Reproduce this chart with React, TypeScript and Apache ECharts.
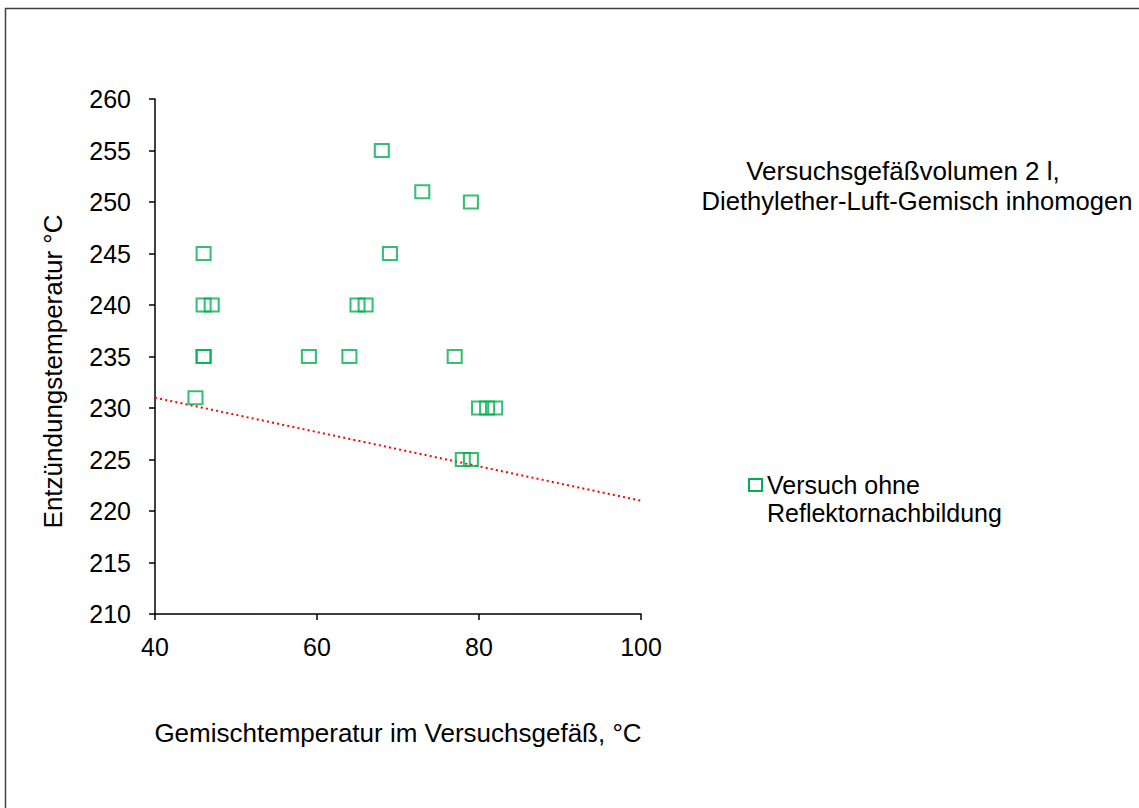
import React, { useEffect, useRef } from "react";
import * as echarts from "echarts";

const seriesName = "Versuch ohne\nReflektornachbildung";
const mixTemps = [68, 73, 79, 46, 69, 46, 47, 65, 66, 46, 46, 59, 64, 77, 45, 80, 81, 82, 78, 79];
const ignitionTemps = [255, 251, 250, 245, 245, 240, 240, 240, 240, 235, 235, 235, 235, 235, 231, 230, 230, 230, 225, 225];
const trendX = [40, 100];
const trendY = [231, 221];
const titleLines = ["Versuchsgefäßvolumen 2 l,", "Diethylether-Luft-Gemisch inhomogen"];
const xName = "Gemischtemperatur im Versuchsgefäß, °C";
const yName = "Entzündungstemperatur °C";

const FONT = "'Liberation Sans', Arial, sans-serif";
const GREEN = "#00B050";

export default function App() {
  const ref = useRef<HTMLDivElement>(null);
  useEffect(() => {
    if (!ref.current) return;
    const chart = echarts.init(ref.current, undefined, { renderer: "svg" });
    const points = mixTemps.map((x, i) => [x, ignitionTemps[i]]);
    const trend = trendX.map((x, i) => [x, trendY[i]]);
    chart.setOption({
      animation: false,
      backgroundColor: "#fff",
      textStyle: { fontFamily: FONT, color: "#000" },
      grid: { left: 155, top: 99, width: 486, height: 515, containLabel: false },
      xAxis: {
        type: "value",
        min: 40,
        max: 100,
        interval: 20,
        name: xName,
        nameLocation: "middle",
        nameGap: 106,
        nameTextStyle: { fontSize: 26, color: "#000", fontFamily: FONT },
        axisLine: { lineStyle: { color: "#000", width: 1.5 } },
        axisTick: { show: true, inside: false, length: 6, lineStyle: { color: "#000", width: 1.5 } },
        axisLabel: { fontSize: 25, color: "#000", fontFamily: FONT, margin: 20 },
        splitLine: { show: false },
      },
      yAxis: {
        type: "value",
        min: 210,
        max: 260,
        interval: 5,
        name: yName,
        nameLocation: "middle",
        nameGap: 89,
        nameTextStyle: { fontSize: 26, color: "#000", fontFamily: FONT, padding: [0, 30, 0, 0] },
        axisLine: { show: true, lineStyle: { color: "#000", width: 1.5 } },
        axisTick: { show: true, inside: false, length: 6, lineStyle: { color: "#000", width: 1.5 } },
        axisLabel: { fontSize: 25, color: "#000", fontFamily: FONT, margin: 24 },
        splitLine: { show: false },
      },
      series: [
        {
          name: seriesName,
          type: "scatter",
          data: points,
          symbol: "rect",
          symbolSize: [14, 13],
          itemStyle: { color: "rgba(0,0,0,0)", borderColor: GREEN, borderWidth: 2 },
          z: 3,
        },
        {
          name: "Trend",
          type: "line",
          data: trend,
          showSymbol: false,
          symbol: "none",
          lineStyle: { color: "#FF0000", width: 2, type: [2, 3.2] },
          z: 2,
        },
      ],
      graphic: [
        {
          type: "rect",
          shape: { x: 5.5, y: 8.5, width: 1200, height: 900 },
          style: { fill: "none", stroke: "#404040", lineWidth: 1.5 },
          silent: true,
        },
        {
          type: "text",
          x: 903,
          y: 171,
          style: {
            text: titleLines[0],
            font: `26px ${FONT}`,
            fill: "#000",
            align: "center",
            verticalAlign: "middle",
          },
        },
        {
          type: "text",
          x: 917,
          y: 201,
          style: {
            text: titleLines[1],
            font: `25.6px ${FONT}`,
            fill: "#000",
            align: "center",
            verticalAlign: "middle",
          },
        },
        {
          type: "rect",
          shape: { x: 749, y: 479, width: 13, height: 12 },
          style: { fill: "none", stroke: GREEN, lineWidth: 2 },
        },
        {
          type: "text",
          x: 767,
          y: 499,
          style: {
            text: seriesName,
            font: `25px ${FONT}`,
            fill: "#000",
            align: "left",
            verticalAlign: "middle",
            lineHeight: 28,
          },
        },
      ],
    });
    return () => chart.dispose();
  }, []);
  return (
    <div
      ref={ref}
      style={{ position: "fixed", left: 0, top: 0, width: 1139, height: 808, background: "#fff" }}
    />
  );
}
